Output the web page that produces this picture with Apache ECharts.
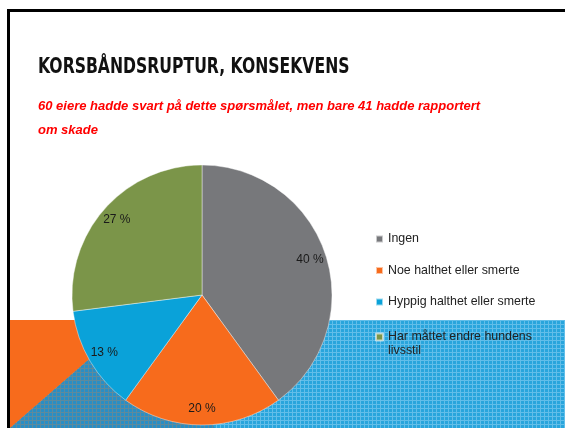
<!DOCTYPE html>
<html>
<head>
<meta charset="utf-8">
<script src="https://cdn.jsdelivr.net/npm/echarts@6/dist/echarts.min.js"></script>
<style>
  html, body { margin: 0; padding: 0; background: #fff; }
  #chart { width: 565px; height: 428px; }
</style>
</head>
<body>
<div id="chart"></div>
<script>
// svar fra eierne (prosent)
var categories = ['Ingen', 'Noe halthet eller smerte', 'Hyppig halthet eller smerte', 'Har måttet endre hundens livsstil'];
var shares = [40, 20, 13, 27];

var sliceColors = ['#77787b', '#f76b1c', '#0aa2d9', '#7b9549'];

// små rutemønstre som i lysbildebakgrunnen
function makePattern(base, line) {
  var c = document.createElement('canvas');
  c.width = 4;
  c.height = 4;
  var g = c.getContext('2d');
  g.fillStyle = base;
  g.fillRect(0, 0, 4, 4);
  g.fillStyle = line;
  g.fillRect(0, 0, 4, 1);
  g.fillRect(0, 0, 1, 4);
  return c;
}

var chart = echarts.init(document.getElementById('chart'), null, { renderer: 'canvas' });

var pieData = categories.map(function (name, i) {
  return { name: name, value: shares[i], itemStyle: { color: sliceColors[i] } };
});
var labelData = categories.map(function (name, i) {
  return { name: name, value: shares[i] };
});

var legendText = { fontFamily: 'Liberation Sans, Arial', fontSize: 12.4, lineHeight: 14, color: '#222' };

var option = {
  animation: false,
  backgroundColor: '#fff',
  title: {
    text: '60 eiere hadde svart på dette spørsmålet, men bare 41 hadde rapportert\nom skade',
    left: 38,
    top: 94,
    padding: 0,
    textStyle: {
      fontFamily: 'Liberation Sans, Arial',
      fontSize: 13,
      fontWeight: 'bold',
      fontStyle: 'italic',
      color: '#ff0000',
      lineHeight: 24
    }
  },
  graphic: [
    {
      type: 'rect', z: 0,
      shape: { x: 10, y: 320, width: 560, height: 110 },
      style: { fill: { image: makePattern('#29a5dc', '#62bee9'), repeat: 'repeat' } }
    },
    {
      type: 'polygon', z: 1,
      shape: { points: [[134, 320], [215, 428], [10, 428]] },
      style: { fill: { image: makePattern('#2a8ec4', '#5e8a9c'), repeat: 'repeat' } }
    },
    {
      type: 'polygon', z: 2,
      shape: { points: [[10, 320], [134, 320], [10, 428]] },
      style: { fill: '#f76b1c' }
    },
    {
      type: 'rect', z: 10,
      shape: { x: 8.5, y: 10.5, width: 600, height: 500 },
      style: { fill: null, stroke: '#000', lineWidth: 3 }
    },
    {
      // overskrift, smal skrift
      type: 'text', z: 10,
      x: 38, y: 67,
      scaleX: 0.79,
      style: {
        text: 'KORSBÅNDSRUPTUR, KONSEKVENS',
        font: 'bold 22px "DejaVu Sans Condensed", "DejaVu Sans"',
        fill: '#111',
        verticalAlign: 'middle'
      }
    }
  ],
  legend: [{
    data: categories.slice(0, 3),
    orient: 'vertical',
    left: 375,
    top: 232,
    padding: 0,
    itemWidth: 7,
    itemHeight: 7,
    itemGap: 17.5,
    icon: 'rect',
    textStyle: legendText
  }, {
    data: categories.slice(3),
    orient: 'vertical',
    left: 375,
    top: 316,
    padding: 0,
    itemWidth: 7,
    itemHeight: 7,
    icon: 'rect',
    formatter: function (name) {
      // tom linje over, slik at ikonet står ved første tekstlinje
      return '\n' + name.replace(' livsstil', '\nlivsstil');
    },
    textStyle: legendText
  }],
  series: [{
    type: 'pie',
    center: [202, 295],
    radius: 130,
    startAngle: 90,
    silent: true,
    label: { show: false },
    labelLine: { show: false },
    itemStyle: { borderColor: 'rgba(255,255,255,0.6)', borderWidth: 0.7 },
    data: pieData
  }, {
    // bare for etikettene, litt lenger ut enn midten av sektoren
    type: 'pie',
    center: [202, 295],
    radius: [91, 130],
    startAngle: 90,
    silent: true,
    itemStyle: { color: 'rgba(0,0,0,0)', borderWidth: 0 },
    label: {
      show: true,
      position: 'inside',
      formatter: '{c} %',
      fontFamily: 'Liberation Sans, Arial',
      fontSize: 12,
      color: '#1a1a1a'
    },
    labelLine: { show: false },
    data: labelData
  }]
};

chart.setOption(option);
</script>
</body>
</html>
